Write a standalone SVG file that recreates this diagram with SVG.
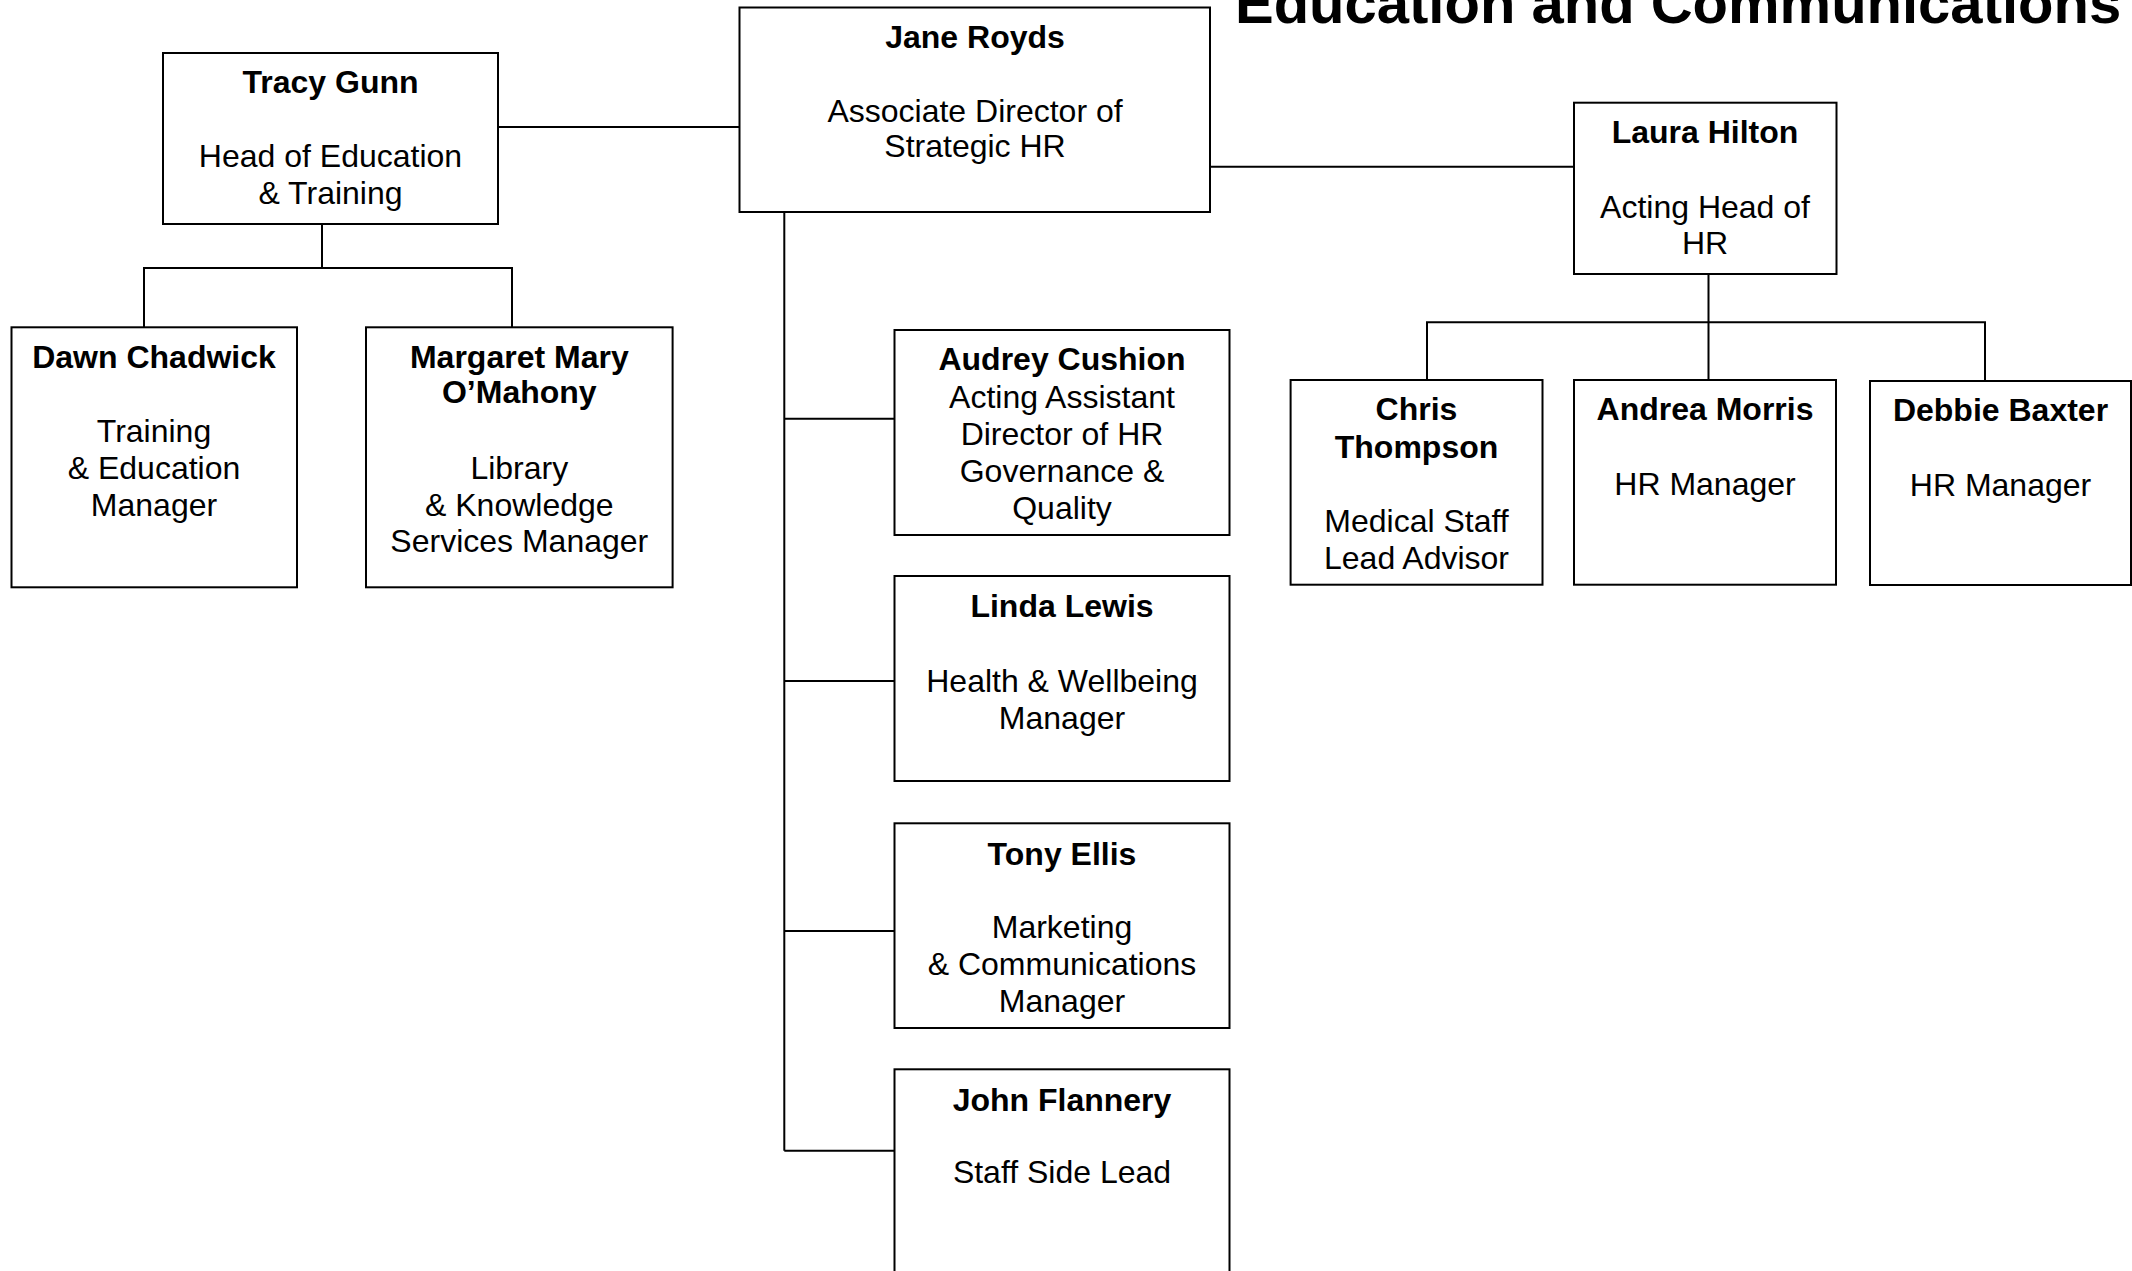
<svg xmlns="http://www.w3.org/2000/svg" width="2132" height="1271" viewBox="0 0 2132 1271">
<style>
  .box { fill: #ffffff; stroke: #000000; stroke-width: 2; }
  .ln { fill: none; stroke: #000000; stroke-width: 2; }
  text { font-family: "Liberation Sans", Arial, sans-serif; font-size: 32px; fill: #000000; text-anchor: middle; }
  .b { font-weight: bold; }
  .title { font-size: 58px; font-weight: bold; text-anchor: start; }
</style>
<rect x="0" y="0" width="2132" height="1271" fill="#ffffff"/>
<text class="title" x="1235" y="23">Education and Communications</text>

<g id="connectors">
  <path class="ln" d="M498,127 H739.5"/>
  <path class="ln" d="M1210,166.7 H1574"/>
  <path class="ln" d="M322,224 V268 M144,327.3 V268 H512 V327.3"/>
  <path class="ln" d="M784.3,212 V1150.7 M784.3,418.7 H894.5 M784.3,681 H894.5 M784.3,931 H894.5 M784.3,1150.7 H894.5"/>
  <path class="ln" d="M1708.5,274 V380 M1427,380 V322.3 H1985 V381"/>
</g>

<g id="jane-royds">
  <rect class="box" x="739.5" y="7.5" width="470.5" height="204.5"/>
  <text class="b" x="975" y="47.7">Jane Royds</text>
  <text x="975" y="121.7">Associate Director of</text>
  <text x="975" y="157.3">Strategic HR</text>
</g>

<g id="tracy-gunn">
  <rect class="box" x="163" y="53" width="335" height="171"/>
  <text class="b" x="330.5" y="93">Tracy Gunn</text>
  <text x="330.5" y="167">Head of Education</text>
  <text x="330.5" y="203.5">&amp; Training</text>
</g>

<g id="laura-hilton">
  <rect class="box" x="1574" y="102.7" width="262.5" height="171.3"/>
  <text class="b" x="1705" y="142.7">Laura Hilton</text>
  <text x="1705" y="217.5">Acting Head of</text>
  <text x="1705" y="254">HR</text>
</g>

<g id="dawn-chadwick">
  <rect class="box" x="11.5" y="327.3" width="285.5" height="260"/>
  <text class="b" x="154" y="368">Dawn Chadwick</text>
  <text x="154" y="441.5">Training</text>
  <text x="154" y="478.5">&amp; Education</text>
  <text x="154" y="515.5">Manager</text>
</g>

<g id="margaret-mary-omahony">
  <rect class="box" x="366" y="327.3" width="306.6" height="260"/>
  <text class="b" x="519.3" y="368">Margaret Mary</text>
  <text class="b" x="519.3" y="403">O’Mahony</text>
  <text x="519.3" y="478.5">Library</text>
  <text x="519.3" y="515.5">&amp; Knowledge</text>
  <text x="519.3" y="552">Services Manager</text>
</g>

<g id="audrey-cushion">
  <rect class="box" x="894.5" y="330" width="335" height="205"/>
  <text class="b" x="1062" y="370">Audrey Cushion</text>
  <text x="1062" y="407.5">Acting Assistant</text>
  <text x="1062" y="444.5">Director of HR</text>
  <text x="1062" y="481.5">Governance &amp;</text>
  <text x="1062" y="518.5">Quality</text>
</g>

<g id="linda-lewis">
  <rect class="box" x="894.5" y="576" width="335" height="205"/>
  <text class="b" x="1062" y="617">Linda Lewis</text>
  <text x="1062" y="691.5">Health &amp; Wellbeing</text>
  <text x="1062" y="728.5">Manager</text>
</g>

<g id="tony-ellis">
  <rect class="box" x="894.5" y="823.3" width="335" height="204.7"/>
  <text class="b" x="1062" y="864.5">Tony Ellis</text>
  <text x="1062" y="937.5">Marketing</text>
  <text x="1062" y="974.5">&amp; Communications</text>
  <text x="1062" y="1011.5">Manager</text>
</g>

<g id="john-flannery">
  <rect class="box" x="894.5" y="1069.3" width="335" height="230"/>
  <text class="b" x="1062" y="1110.5">John Flannery</text>
  <text x="1062" y="1183">Staff Side Lead</text>
</g>

<g id="chris-thompson">
  <rect class="box" x="1290.6" y="380" width="251.9" height="204.7"/>
  <text class="b" x="1416.5" y="419.5">Chris</text>
  <text class="b" x="1416.5" y="457.5">Thompson</text>
  <text x="1416.5" y="531.5">Medical Staff</text>
  <text x="1416.5" y="568.5">Lead Advisor</text>
</g>

<g id="andrea-morris">
  <rect class="box" x="1574" y="380" width="262" height="204.7"/>
  <text class="b" x="1705" y="420">Andrea Morris</text>
  <text x="1705" y="494.5">HR Manager</text>
</g>

<g id="debbie-baxter">
  <rect class="box" x="1870" y="381" width="261" height="204"/>
  <text class="b" x="2000.5" y="421">Debbie Baxter</text>
  <text x="2000.5" y="495.5">HR Manager</text>
</g>
</svg>
